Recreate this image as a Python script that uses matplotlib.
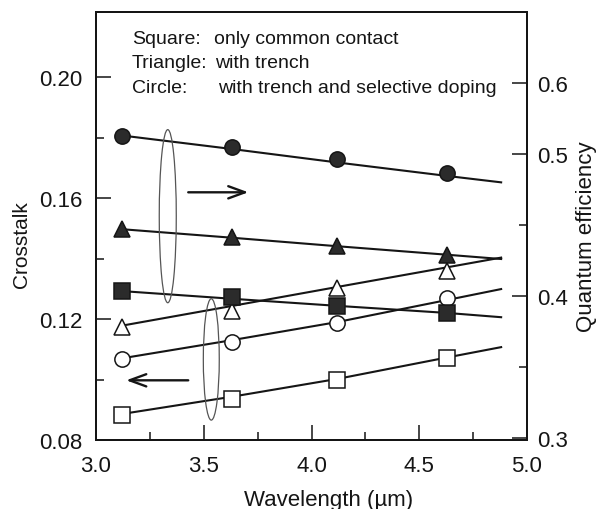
import matplotlib
matplotlib.use("Agg")
import matplotlib.pyplot as plt
from matplotlib.patches import Ellipse

plt.rcParams['font.family'] = ['Liberation Sans', 'DejaVu Sans']

# ---- data ----
wavelength = [3.12, 3.63, 4.12, 4.63]

# crosstalk (left axis, open markers)
ct_square = [0.0883, 0.0936, 0.0998, 0.1071]
ct_triangle = [0.1174, 0.1226, 0.1302, 0.1359]
ct_circle = [0.1068, 0.1124, 0.1187, 0.1269]

# quantum efficiency (right axis, filled markers)
qe_square = [0.4034, 0.3991, 0.3928, 0.3878]
qe_triangle = [0.4471, 0.4414, 0.4351, 0.4287]
qe_circle = [0.5128, 0.5050, 0.4965, 0.4866]

# fitted trend lines as drawn in the figure
fit_x = [3.12, 3.63, 4.12, 4.63, 4.88]
ct_square_fit = [0.0886, 0.0943, 0.1002, 0.1073, 0.1107]
ct_triangle_fit = [0.1178, 0.1243, 0.1306, 0.1371, 0.1403]
ct_circle_fit = [0.1070, 0.1130, 0.1190, 0.1263, 0.1299]
qe_square_fit = [0.4034, 0.3980, 0.3930, 0.3880, 0.3850]
qe_triangle_fit = [0.4470, 0.4410, 0.4350, 0.4290, 0.4260]
qe_circle_fit = [0.5130, 0.5035, 0.4940, 0.4845, 0.4800]

x_ticks = [3.0, 3.5, 4.0, 4.5, 5.0]
x_tick_labels = ['3.0', '3.5', '4.0', '4.5', '5.0']
x_minor = [3.25, 3.75, 4.25, 4.75]
ct_ticks = [0.08, 0.12, 0.16, 0.20]
ct_tick_labels = ['0.08', '0.12', '0.16', '0.20']
ct_minor = [0.10, 0.14, 0.18]
qe_ticks = [0.3, 0.4, 0.5, 0.55]
qe_tick_labels = ['0.3', '0.4', '0.5', '0.6']
qe_minor = [0.35, 0.45]

legend_keys = ['Square:', 'Triangle:', 'Circle:']
legend_texts = ['only common contact', 'with trench', 'with trench and selective doping']

# ---- figure ----
fig = plt.figure(figsize=(6.01, 5.10), dpi=100)
ax = fig.add_axes([96/601, 1-441/510, 431/601, 428/510])
ax2 = ax.twinx()

ink = '#151515'
fillc = '#2b2b2b'
ms = 11
lw = 1.5

ax.set_xlim(3.0, 5.0)
ax.set_ylim(0.08, 0.2215)
ax2.set_ylim(0.2985, 0.600)

# fit lines
ax.plot(fit_x, ct_square_fit, color=ink, lw=lw, zorder=2)
ax.plot(fit_x, ct_triangle_fit, color=ink, lw=lw, zorder=2)
ax.plot(fit_x, ct_circle_fit, color=ink, lw=lw, zorder=2)
ax2.plot(fit_x, qe_square_fit, color=ink, lw=lw, zorder=2)
ax2.plot(fit_x, qe_triangle_fit, color=ink, lw=lw, zorder=2)
ax2.plot(fit_x, qe_circle_fit, color=ink, lw=lw, zorder=2)

# open markers (crosstalk)
ax.plot(wavelength, ct_square, ls='none', marker='s', ms=ms, mfc='white', mec=ink, mew=1.1, zorder=3)
ax.plot(wavelength, ct_triangle, ls='none', marker='^', ms=ms + 0.5, mfc='white', mec=ink, mew=1.1, zorder=3)
ax.plot(wavelength, ct_circle, ls='none', marker='o', ms=ms, mfc='white', mec=ink, mew=1.1, zorder=3)

# filled markers (QE)
ax2.plot(wavelength, qe_square, ls='none', marker='s', ms=ms, mfc=fillc, mec=ink, mew=1.1, zorder=3)
ax2.plot(wavelength, qe_triangle, ls='none', marker='^', ms=ms + 0.5, mfc=fillc, mec=ink, mew=1.1, zorder=3)
ax2.plot(wavelength, qe_circle, ls='none', marker='o', ms=ms, mfc=fillc, mec=ink, mew=1.1, zorder=3)

# ellipses grouping
ax2.add_patch(Ellipse((3.333, 0.2985 + (441-216)/1427), 0.079, 174/1427,
                      fill=False, ec='#555555', lw=0.9, zorder=4))
ax2.add_patch(Ellipse((3.535, 0.2985 + (441-360)/1427), 0.074, 122/1427,
                      fill=False, ec='#555555', lw=0.9, zorder=4))

# arrows
ax2.annotate('', xy=(3.707, 0.2985 + (441-192)/1427), xytext=(3.428, 0.2985 + (441-192)/1427),
             arrowprops=dict(arrowstyle='->,head_length=0.6,head_width=0.22', lw=1.7, color=ink,
                             mutation_scale=20, shrinkA=0, shrinkB=0), zorder=5)
ax2.annotate('', xy=(3.14, 0.2985 + (441-381)/1427), xytext=(3.428, 0.2985 + (441-381)/1427),
             arrowprops=dict(arrowstyle='->,head_length=0.6,head_width=0.22', lw=1.7, color=ink,
                             mutation_scale=20, shrinkA=0, shrinkB=0), zorder=5)

# text block
fs_txt = 14
key_x = 3.167
val_x = [3.549, 3.552, 3.567]
base_y = [0.2112, 0.2033, 0.1950]
for k, v, vx, by in zip(legend_keys, legend_texts, val_x, base_y):
    ax.text(key_x, by, k, fontsize=fs_txt, va='baseline', ha='left', color=ink, zorder=6)
    ax.text(vx, by, v, fontsize=fs_txt, va='baseline', ha='left', color=ink, zorder=6)

# ticks
fs_tick = 16
ax.set_xticks(x_ticks)
ax.set_xticklabels(x_tick_labels)
ax.set_xticks(x_minor, minor=True)
ax.set_yticks(ct_ticks)
ax.set_yticklabels(ct_tick_labels)
ax.set_yticks(ct_minor, minor=True)
ax2.set_yticks(qe_ticks)
ax2.set_yticklabels(qe_tick_labels)
ax2.set_yticks(qe_minor, minor=True)

ax.tick_params(axis='x', which='major', direction='in', length=11, width=1.1, labelsize=fs_tick, pad=11, colors=ink, top=False)
ax.tick_params(axis='x', which='minor', direction='in', length=6, width=1.1, top=False, colors=ink)
ax.tick_params(axis='y', which='major', direction='in', length=11, width=1.1, labelsize=fs_tick, pad=10, colors=ink)
ax.tick_params(axis='y', which='minor', direction='in', length=6, width=1.1, colors=ink)
ax2.tick_params(axis='y', which='major', direction='in', length=11, width=1.1, labelsize=fs_tick, pad=7, colors=ink)
ax2.tick_params(axis='y', which='minor', direction='in', length=6, width=1.1, colors=ink)

for a in (ax, ax2):
    for s in a.spines.values():
        s.set_linewidth(1.4)
        s.set_color(ink)

ax.set_xlabel('Wavelength (µm)', fontsize=16, color=ink)
ax.xaxis.set_label_coords(0.54, -0.115)
ax.set_ylabel('Crosstalk', fontsize=15, color=ink)
ax.yaxis.set_label_coords(-0.151, 0.458)
ax2.set_ylabel('Quantum efficiency', fontsize=16, color=ink, rotation=90)
ax2.yaxis.set_label_coords(1.114, 0.477)

fig.savefig('out.png', dpi=100)
